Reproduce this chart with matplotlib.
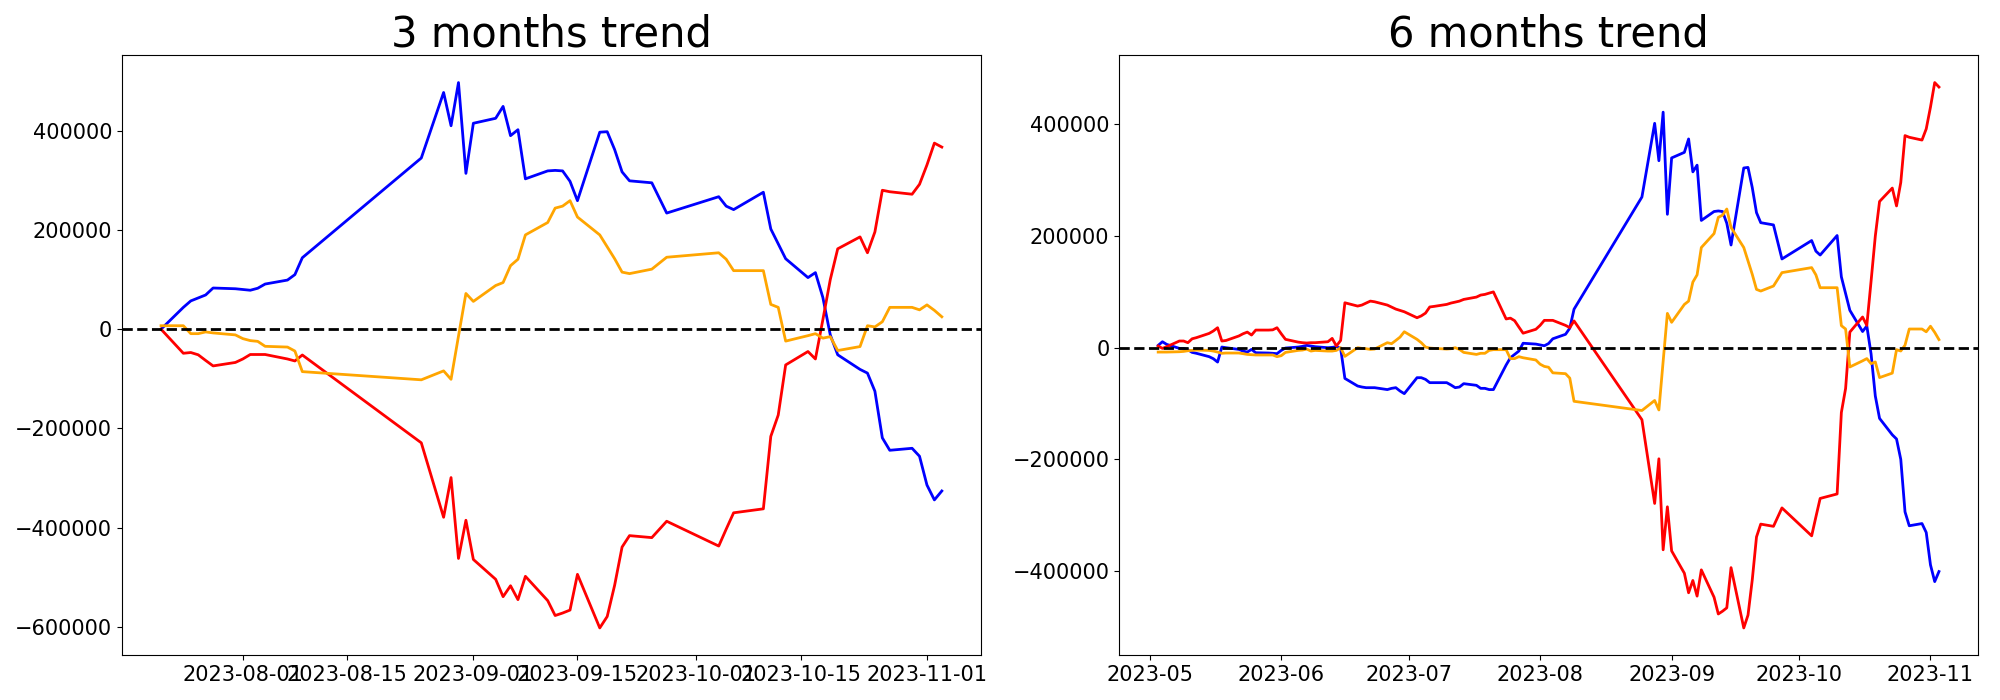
import pandas as pd
import matplotlib.pyplot as plt

# --- 3 months window ---
dates_3m = pd.to_datetime([
    "2023-07-21", "2023-07-24", "2023-07-25", "2023-07-26", "2023-07-27", "2023-07-28", "2023-07-31",
    "2023-08-01", "2023-08-02", "2023-08-03", "2023-08-04", "2023-08-07", "2023-08-08", "2023-08-09",
    "2023-08-25", "2023-08-28", "2023-08-29", "2023-08-30", "2023-08-31",
    "2023-09-01", "2023-09-04", "2023-09-05", "2023-09-06", "2023-09-07", "2023-09-08", "2023-09-11",
    "2023-09-12", "2023-09-13", "2023-09-14", "2023-09-15", "2023-09-18", "2023-09-19", "2023-09-20",
    "2023-09-21", "2023-09-22", "2023-09-25", "2023-09-27",
    "2023-10-04", "2023-10-05", "2023-10-06", "2023-10-10", "2023-10-11", "2023-10-12", "2023-10-13",
    "2023-10-16", "2023-10-17", "2023-10-18", "2023-10-19", "2023-10-20", "2023-10-23", "2023-10-24",
    "2023-10-25", "2023-10-26", "2023-10-27", "2023-10-30", "2023-10-31",
    "2023-11-01", "2023-11-02", "2023-11-03",
])
blue_3m = [
    0, 44000, 57000, 63000, 69000, 83000, 81500,
    80000, 78500, 82500, 91000, 99000, 110000, 144000, 345000, 477000, 410000, 497000, 314000,
    415000, 425000, 449000, 390000, 402000, 303000, 319000, 320000, 319000, 298000, 259000,
    397000, 398000, 362000, 317000, 299000, 295000, 234000,
    267000, 248000, 241000, 276000, 202000, 172000, 142000, 104000, 114000, 64000, -11500,
    -51600, -81000, -88500, -125000, -219000, -244000, -240000, -256000,
    -314000, -344000, -326000,
]
red_3m = [
    0, -48500, -47000, -51600, -63000, -74000, -67000,
    -60000, -51000, -51000, -51000, -60000, -64000, -52000, -229000, -379000, -299000, -462000, -385000,
    -464000, -504000, -539000, -517000, -545000, -498000, -547000, -577000, -572000, -566000, -494000,
    -602000, -579000, -516000, -439000, -416000, -420000, -387000,
    -437000, -403000, -370000, -362000, -216000, -173000, -72000, -45000, -60000, 19000, 100000,
    162000, 186000, 154000, 196000, 280000, 277000, 272000, 292000,
    331000, 375000, 367000,
]
orange_3m = [
    7000, 7000, -9000, -9000, -5500, -7500, -11500,
    -19000, -23000, -24500, -34500, -36000, -44000, -85500, -102000, -84000, -101000, -14000, 72000,
    56000, 88000, 94000, 128000, 141000, 190000, 215000, 244000, 248000, 259000, 226000,
    190000, 166000, 142000, 115000, 112000, 121000, 145000,
    154000, 141000, 118000, 118000, 50000, 44000, -24000, -13000, -9000, -18000, -15000,
    -43000, -35000, 7000, 4600, 15000, 44000, 44000, 39000,
    49000, 38000, 25000,
]

# --- 6 months window ---
dates_6m = pd.to_datetime([
    "2023-05-03", "2023-05-04", "2023-05-05", "2023-05-08", "2023-05-09", "2023-05-10", "2023-05-11",
    "2023-05-12", "2023-05-15", "2023-05-16", "2023-05-17", "2023-05-18", "2023-05-19", "2023-05-22",
    "2023-05-23", "2023-05-24", "2023-05-25", "2023-05-26", "2023-05-29", "2023-05-30", "2023-05-31",
    "2023-06-01", "2023-06-02", "2023-06-05", "2023-06-06", "2023-06-07", "2023-06-08", "2023-06-09",
    "2023-06-12", "2023-06-13", "2023-06-14", "2023-06-15", "2023-06-16", "2023-06-19", "2023-06-20",
    "2023-06-21", "2023-06-22", "2023-06-23", "2023-06-26", "2023-06-27", "2023-06-28", "2023-06-29",
    "2023-06-30", "2023-07-03", "2023-07-04", "2023-07-05", "2023-07-06", "2023-07-07", "2023-07-10",
    "2023-07-11", "2023-07-12", "2023-07-13", "2023-07-14", "2023-07-17", "2023-07-18", "2023-07-19",
    "2023-07-20",
    "2023-07-21", "2023-07-24", "2023-07-25", "2023-07-26", "2023-07-27", "2023-07-28", "2023-07-31",
    "2023-08-01", "2023-08-02", "2023-08-03", "2023-08-04", "2023-08-07", "2023-08-08", "2023-08-09",
    "2023-08-25", "2023-08-28", "2023-08-29", "2023-08-30", "2023-08-31",
    "2023-09-01", "2023-09-04", "2023-09-05", "2023-09-06", "2023-09-07", "2023-09-08", "2023-09-11",
    "2023-09-12", "2023-09-13", "2023-09-14", "2023-09-15", "2023-09-18", "2023-09-19", "2023-09-20",
    "2023-09-21", "2023-09-22", "2023-09-25", "2023-09-27",
    "2023-10-04", "2023-10-05", "2023-10-06", "2023-10-10", "2023-10-11", "2023-10-12", "2023-10-13",
    "2023-10-16", "2023-10-17", "2023-10-18", "2023-10-19", "2023-10-20", "2023-10-23", "2023-10-24",
    "2023-10-25", "2023-10-26", "2023-10-27", "2023-10-30", "2023-10-31",
    "2023-11-01", "2023-11-02", "2023-11-03",
])
blue_6m = [
    4200, 10700, 6000, -1200, -1200, -3600, -8400, -10000, -16000, -19700, -25700, 1200, 0, -3000,
    -6000, -7800, -3000, -9000, -9500, -10000, -10700,
    -4800, -600, 1200, 2400, 4200, 3000, 1800, 0, 600, 1800, -1200, -55000, -68600, -70400,
    -71600, -71600, -71600, -75000, -72800, -71600, -77600, -82300,
    -53700, -53700, -56700, -62600, -62600, -62600, -66800, -71600, -70400, -64400, -67400, -72800, -72800,
    -75000,
    -75000, -31000, -18000, -12000, -6000, 8000, 6500,
    5000, 3500, 7500, 16000, 24000, 35000, 69000, 270000, 402000, 335000, 422000, 239000,
    340000, 350000, 374000, 315000, 327000, 228000, 244000, 245000, 244000, 223000, 184000,
    322000, 323000, 287000, 242000, 224000, 220000, 159000,
    192000, 173000, 166000, 201000, 127000, 97000, 67000, 29000, 39000, -11000, -86500,
    -126600, -156000, -163500, -200000, -294000, -319000, -315000, -331000,
    -389000, -419000, -401000,
]
red_6m = [
    3000, -1200, 1800, 12000, 12000, 9000, 16000, 18000, 25600, 30000, 35800, 12000, 13000, 21000,
    25000, 28000, 22700, 31600, 31600, 32000, 35800,
    25000, 15000, 10000, 9000, 8400, 9000, 9000, 10700, 16700, 3000, 13000, 80500, 74600, 76400,
    80000, 83500, 82300, 76400, 72800, 69200, 66800, 64400,
    53700, 57000, 62000, 73000, 74000, 77600, 80000, 81700, 83500, 86500, 90700, 94300, 95500,
    97800,
    100000, 51500, 53000, 48400, 37000, 26000, 33000,
    40000, 49000, 49000, 49000, 40000, 36000, 48000, -129000, -279000, -199000, -362000, -285000,
    -364000, -404000, -439000, -417000, -445000, -398000, -447000, -477000, -472000, -466000, -394000,
    -502000, -479000, -416000, -339000, -316000, -320000, -287000,
    -337000, -303000, -270000, -262000, -116000, -73000, 28000, 55000, 40000, 119000, 200000,
    262000, 286000, 254000, 296000, 380000, 377000, 372000, 392000,
    431000, 475000, 467000,
]
orange_6m = [
    -7800, -7800, -7800, -7200, -6600, -5400, -4800, -4200, -4800, -6000, -7800, -10000, -9500, -9500,
    -10700, -12000, -12500, -13000, -13000, -13000, -16000,
    -14300, -8400, -4800, -4200, -2400, -6000, -4800, -6000, -6000, -4800, 0, -15500, 0, -1200,
    -1800, -3000, -2400, 9000, 7200, 13000, 19000, 28600,
    15000, 9000, 1200, -600, -1200, -2400, -1800, 0, -3000, -8400, -12000, -10000, -10000,
    -4800,
    -3500, -3500, -19500, -19500, -16000, -18000, -22000,
    -29500, -33500, -35000, -45000, -46500, -54500, -96000, -112500, -94500, -111500, -24500, 61500,
    45500, 77500, 83500, 117500, 130500, 179500, 204500, 233500, 237500, 248500, 215500,
    179500, 155500, 131500, 104500, 101500, 110500, 134500,
    143500, 130500, 107500, 107500, 39500, 33500, -34500, -23500, -19500, -28500, -25500,
    -53500, -45500, -3500, -5900, 4500, 33500, 33500, 28500,
    38500, 27500, 14500,
]

panels = [
    ("3 months trend", dates_3m, blue_3m, red_3m, orange_3m),
    ("6 months trend", dates_6m, blue_6m, red_6m, orange_6m),
]

fig, axes = plt.subplots(1, 2, figsize=(20, 7))

for ax, (title, dates, blue, red, orange) in zip(axes, panels):
    ax.plot(dates, blue, color="blue", linewidth=2)
    ax.plot(dates, red, color="red", linewidth=2)
    ax.plot(dates, orange, color="orange", linewidth=2)
    # zero reference line
    ax.axhline(0, color="black", linestyle="--", linewidth=2)
    ax.set_title(title, fontsize=30)
    ax.tick_params(labelsize=15)

fig.subplots_adjust(left=0.061, right=0.989, bottom=0.064, top=0.921, wspace=0.161)
fig.savefig("out.png", dpi=100)
